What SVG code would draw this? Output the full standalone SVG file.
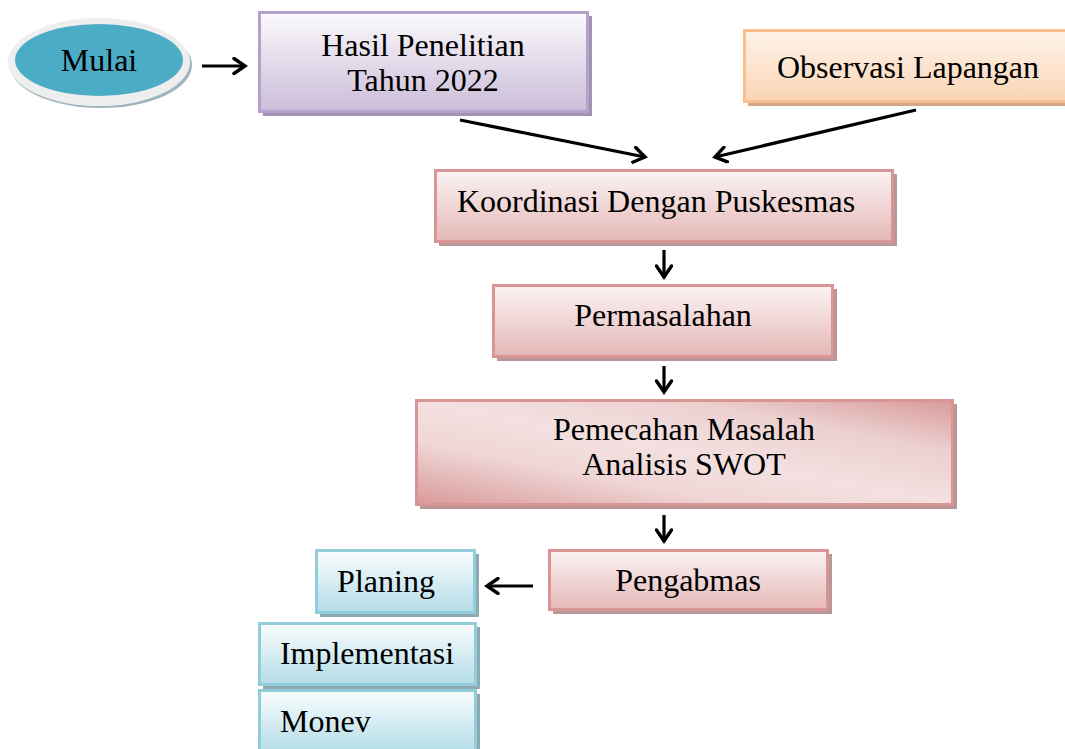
<svg xmlns="http://www.w3.org/2000/svg" width="1065" height="749" viewBox="0 0 1065 749">
<style>
text{font-family:"Liberation Serif","Times New Roman",serif;font-size:32px;fill:#000}
.c{stroke:#000;stroke-width:3.2;fill:none}
</style>
<defs>
<marker id="ah" markerWidth="16" markerHeight="18" refX="13" refY="9" orient="auto" markerUnits="userSpaceOnUse">
<path d="M2,1.5 L13,9 L2,16.5" fill="none" stroke="#000" stroke-width="3.4" stroke-linecap="round" stroke-linejoin="miter"/>
</marker>
<linearGradient id="gPurple" x1="0" y1="0" x2="0" y2="1"><stop offset="0" stop-color="#fbfafc"/><stop offset="1" stop-color="#cbbcd9"/></linearGradient>
<linearGradient id="gPeach" x1="0" y1="0" x2="0" y2="1"><stop offset="0" stop-color="#fef3ea"/><stop offset="1" stop-color="#fbd5b5"/></linearGradient>
<linearGradient id="gPink" x1="0" y1="0" x2="0" y2="1"><stop offset="0" stop-color="#fbf3f3"/><stop offset="1" stop-color="#e5b8b7"/></linearGradient>
<linearGradient id="gPinkD" x1="0" y1="1" x2="1" y2="0"><stop offset="0" stop-color="#d9999a"/><stop offset="0.3" stop-color="#f0d6d6"/><stop offset="0.5" stop-color="#f3e0e0"/><stop offset="0.75" stop-color="#ecd0d0"/><stop offset="1" stop-color="#d99a9a"/></linearGradient>
<linearGradient id="gBlue" x1="0" y1="0" x2="0" y2="1"><stop offset="0" stop-color="#fafdfe"/><stop offset="1" stop-color="#b3dce7"/></linearGradient>
</defs>
<g id="mulai">
<ellipse cx="101" cy="65" rx="91" ry="43" fill="#9fb5bd"/>
<ellipse cx="99" cy="62" rx="91" ry="44" fill="#eeeeee"/>
<ellipse cx="99" cy="60" rx="84" ry="36" fill="#4bacc6"/>
<text x="99" y="71" text-anchor="middle">Mulai</text>
</g>
<g id="hasil">
<rect x="263" y="16" width="329" height="100" fill="#a393b3"/>
<rect x="259.5" y="12.5" width="328" height="99" fill="url(#gPurple)" stroke="#b3a2cb" stroke-width="3"/>
<text x="423" y="56" text-anchor="middle">Hasil Penelitian</text>
<text x="423" y="91" text-anchor="middle">Tahun 2022</text>
</g>
<g id="observasi">
<rect x="748" y="34" width="317" height="72" fill="#d3a785"/>
<rect x="744.5" y="30.5" width="322" height="71" fill="url(#gPeach)" stroke="#f9bf8f" stroke-width="3"/>
<text x="908" y="78" text-anchor="middle">Observasi Lapangan</text>
</g>
<g id="koordinasi">
<rect x="439" y="174" width="458" height="72" fill="#b79797"/>
<rect x="435.5" y="170.5" width="457" height="71" fill="url(#gPink)" stroke="#d99594" stroke-width="3"/>
<text x="656" y="212" text-anchor="middle">Koordinasi Dengan Puskesmas</text>
</g>
<g id="permasalahan">
<rect x="497" y="289" width="340" height="72" fill="#b79797"/>
<rect x="493.5" y="285.5" width="339" height="71" fill="url(#gPink)" stroke="#d99594" stroke-width="3"/>
<text x="663" y="326" text-anchor="middle">Permasalahan</text>
</g>
<g id="pemecahan">
<rect x="420" y="404" width="537" height="105" fill="#b79797"/>
<rect x="416.5" y="400.5" width="536" height="104" fill="url(#gPinkD)" stroke="#d99594" stroke-width="3"/>
<text x="684" y="440" text-anchor="middle">Pemecahan Masalah</text>
<text x="684" y="475" text-anchor="middle">Analisis SWOT</text>
</g>
<g id="pengabmas">
<rect x="553" y="554" width="279" height="60" fill="#b79797"/>
<rect x="549.5" y="550.5" width="278" height="59" fill="url(#gPink)" stroke="#d99594" stroke-width="3"/>
<text x="688" y="591" text-anchor="middle">Pengabmas</text>
</g>
<g id="planing">
<rect x="320" y="554" width="159" height="63" fill="#8fa9b1"/>
<rect x="316.5" y="550.5" width="158" height="62" fill="url(#gBlue)" stroke="#92cddc" stroke-width="3"/>
<text x="386" y="592" text-anchor="middle">Planing</text>
</g>
<g id="implementasi">
<rect x="263" y="627" width="217" height="62" fill="#8fa9b1"/>
<rect x="259.5" y="623.5" width="216" height="61" fill="url(#gBlue)" stroke="#92cddc" stroke-width="3"/>
<text x="367" y="664" text-anchor="middle">Implementasi</text>
</g>
<g id="monev">
<rect x="263" y="694" width="217" height="60" fill="#8fa9b1"/>
<rect x="259.5" y="690.5" width="216" height="62" fill="url(#gBlue)" stroke="#92cddc" stroke-width="3"/>
<text x="280" y="732">Monev</text>
</g>
<g id="connectors">
<line class="c" x1="202" y1="66" x2="245" y2="66" marker-end="url(#ah)"/>
<line class="c" x1="460" y1="120" x2="645" y2="157" marker-end="url(#ah)"/>
<line class="c" x1="916" y1="110" x2="715" y2="157" marker-end="url(#ah)"/>
<line class="c" x1="664" y1="250" x2="664" y2="277" marker-end="url(#ah)"/>
<line class="c" x1="664" y1="366" x2="664" y2="392" marker-end="url(#ah)"/>
<line class="c" x1="664" y1="515" x2="664" y2="541" marker-end="url(#ah)"/>
<line class="c" x1="533" y1="586" x2="487" y2="586" marker-end="url(#ah)"/>
</g>
</svg>
